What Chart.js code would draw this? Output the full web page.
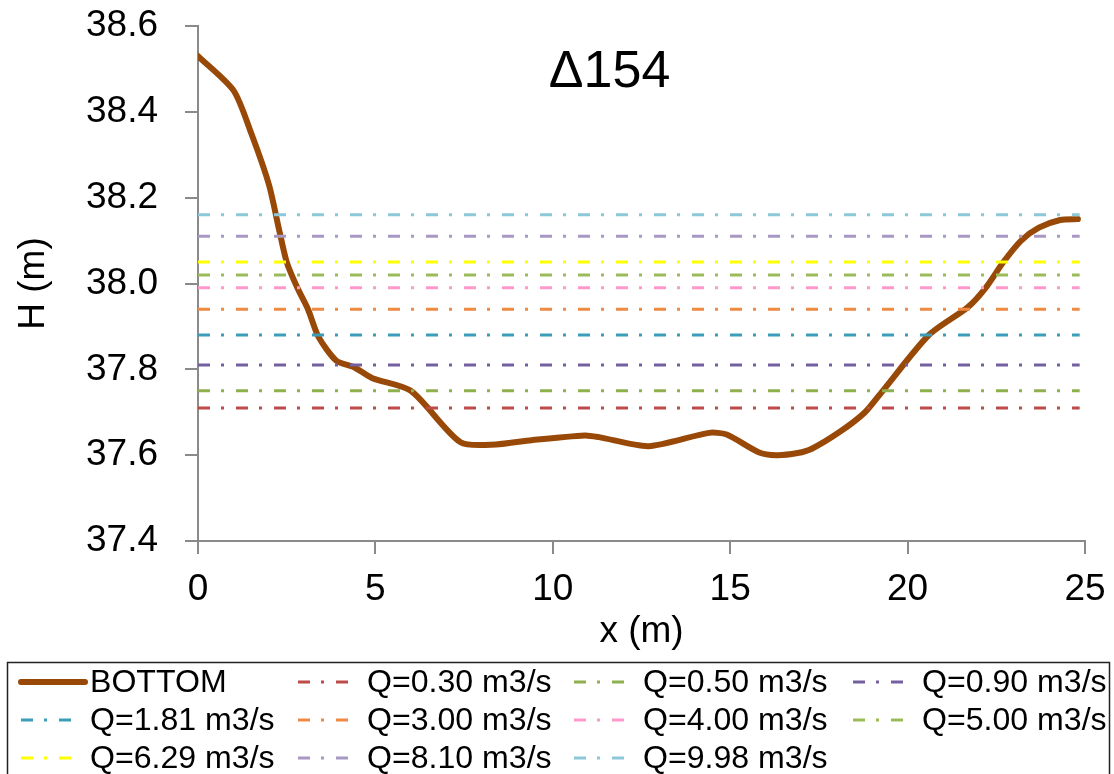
<!DOCTYPE html>
<html>
<head>
<meta charset="utf-8">
<title>Δ154 cross-section</title>
<script src="https://cdn.jsdelivr.net/npm/chart.js@4.4.1/dist/chart.umd.min.js"></script>
<style>
  html, body { margin: 0; padding: 0; background: #ffffff; }
  #wrap { width: 1114px; height: 774px; }
</style>
</head>
<body>
<div id="wrap"><canvas id="chart" width="1114" height="774"></canvas></div>
<script>
// Cross-section Δ154: bed profile and water surface levels for several discharges
const sectionName = 'Δ154';

// Bed profile (station x in m, elevation H in m)
const bottomX = [0, 1.0, 1.5, 2.0, 2.3, 2.5, 2.8, 3.1, 3.4, 3.9, 4.4, 4.9, 6.0, 7.4, 8.4, 9.4, 10.9, 11.3, 12.7, 14.4, 14.9, 15.8, 16.3, 16.9, 17.3, 18.1, 18.8, 19.3, 20.6, 21.7, 22.2, 22.7, 23.2, 23.7, 24.3, 24.8];
const bottomH = [38.53, 38.45, 38.35, 38.23, 38.12, 38.05, 37.99, 37.94, 37.875, 37.82, 37.805, 37.78, 37.75, 37.63, 37.625, 37.635, 37.646, 37.642, 37.621, 37.652, 37.648, 37.607, 37.60, 37.605, 37.615, 37.655, 37.70, 37.75, 37.88, 37.945, 37.99, 38.05, 38.10, 38.13, 38.148, 38.15];

// Water surface elevations per discharge
const flowLabels = ['Q=0.30 m3/s', 'Q=0.50 m3/s', 'Q=0.90 m3/s', 'Q=1.81 m3/s', 'Q=3.00 m3/s', 'Q=4.00 m3/s', 'Q=5.00 m3/s', 'Q=6.29 m3/s', 'Q=8.10 m3/s', 'Q=9.98 m3/s'];
const waterLevels = [37.71, 37.75, 37.81, 37.88, 37.94, 37.99, 38.02, 38.05, 38.11, 38.16];
const levelSpan = [0, 24.85];

// Axis ticks
const xTicks = [0, 5, 10, 15, 20, 25];
const yTicks = [37.4, 37.6, 37.8, 38.0, 38.2, 38.4, 38.6];

// Styling
const bottomColor = '#984807';
const levelColors = ['#BE4B48', '#8FB04E', '#7460A0', '#3C9DB8', '#EE8A42', '#FF99CC', '#9BBB59', '#FFFF00', '#A899C4', '#8CC8DA'];
const dashDot = [12, 11, 3, 12];
const FONT = '"Liberation Sans", Arial, sans-serif';
const AXIS_GRAY = '#8a8a8a';

const datasets = [{
  label: 'BOTTOM',
  data: bottomX.map((x, i) => ({ x: x, y: bottomH[i] })),
  borderColor: bottomColor,
  backgroundColor: bottomColor,
  borderWidth: 6,
  pointRadius: 0,
  tension: 0.25,
  borderCapStyle: 'round',
  borderJoinStyle: 'round',
  order: 2
}];
waterLevels.forEach((h, i) => {
  datasets.push({
    label: flowLabels[i],
    data: levelSpan.map(x => ({ x: x, y: h })),
    borderColor: levelColors[i],
    backgroundColor: levelColors[i],
    borderWidth: 3,
    borderDash: dashDot,
    pointRadius: 0,
    tension: 0,
    order: 1
  });
});

// Section name above the curves
const sectionTitle = {
  id: 'sectionTitle',
  afterDraw(chart) {
    const ctx = chart.ctx;
    const xs = chart.scales.x;
    ctx.save();
    ctx.font = '52px ' + FONT;
    ctx.fillStyle = '#000';
    ctx.textAlign = 'center';
    ctx.textBaseline = 'middle';
    ctx.fillText(sectionName, xs.getPixelForValue(11.6), chart.chartArea.top + 47);
    ctx.restore();
  }
};

// Boxed four-column legend under the x axis
const boxLegend = {
  id: 'boxLegend',
  afterDraw(chart) {
    const ctx = chart.ctx;
    const top = 662;
    const colX = [21, 298, 574, 853];
    const rowY = [682, 720, 758];
    ctx.save();
    ctx.strokeStyle = '#222';
    ctx.lineWidth = 1.5;
    ctx.strokeRect(7.5, top + 0.5, 1102, 130);
    ctx.font = '31px ' + FONT;
    ctx.textBaseline = 'middle';
    ctx.textAlign = 'left';
    chart.data.datasets.forEach((ds, i) => {
      const col = i % 4, row = Math.floor(i / 4);
      const x0 = colX[col], y = rowY[row];
      ctx.beginPath();
      ctx.strokeStyle = ds.borderColor;
      if (i === 0) {
        ctx.lineWidth = 6;
        ctx.lineCap = 'round';
        ctx.setLineDash([]);
        ctx.moveTo(x0, y);
        ctx.lineTo(x0 + 64, y);
      } else {
        ctx.lineWidth = 3;
        ctx.lineCap = 'butt';
        ctx.setLineDash(dashDot);
        ctx.moveTo(x0, y);
        ctx.lineTo(x0 + 52, y);
      }
      ctx.stroke();
      ctx.setLineDash([]);
      ctx.fillStyle = '#000';
      // slightly widened lettering
      ctx.save();
      ctx.translate(x0 + 69, y + 1);
      ctx.scale(1.035, 1);
      ctx.fillText(ds.label, 0, 0);
      ctx.restore();
    });
    ctx.restore();
  }
};

new Chart(document.getElementById('chart'), {
  type: 'line',
  data: { datasets: datasets },
  plugins: [sectionTitle, boxLegend],
  options: {
    responsive: false,
    animation: false,
    layout: { padding: { left: 0, right: 29, top: 26, bottom: 118 } },
    plugins: {
      legend: { display: false },
      tooltip: { enabled: false },
      title: { display: false }
    },
    scales: {
      x: {
        type: 'linear',
        min: xTicks[0],
        max: xTicks[xTicks.length - 1],
        afterBuildTicks(scale) { scale.ticks = xTicks.map(v => ({ value: v })); },
        afterFit(scale) {
          scale.height = 115;
          scale.paddingLeft = 0;
          scale.paddingRight = 0;
        },
        grid: { drawOnChartArea: false, drawTicks: true, tickLength: 13, color: AXIS_GRAY, lineWidth: 2 },
        border: { color: AXIS_GRAY, width: 2 },
        ticks: {
          color: '#000',
          font: { family: FONT, size: 37 },
          padding: 14,
          maxRotation: 0,
          callback: v => String(v)
        },
        title: {
          display: true,
          text: 'x (m)',
          color: '#000',
          font: { family: FONT, size: 37 },
          padding: { top: 0, bottom: 2 }
        }
      },
      y: {
        min: yTicks[0],
        max: yTicks[yTicks.length - 1],
        afterBuildTicks(scale) { scale.ticks = yTicks.map(v => ({ value: v })); },
        afterFit(scale) {
          scale.width = 198;
          scale.paddingTop = 0;
          scale.paddingBottom = 0;
        },
        grid: { drawOnChartArea: false, drawTicks: true, tickLength: 13, color: AXIS_GRAY, lineWidth: 2 },
        border: { color: AXIS_GRAY, width: 2 },
        ticks: {
          color: '#000',
          font: { family: FONT, size: 37 },
          padding: 27,
          callback: v => Number(v).toFixed(1)
        },
        title: {
          display: true,
          text: 'H (m)',
          color: '#000',
          font: { family: FONT, size: 37 },
          padding: { top: 12, bottom: 0 }
        }
      }
    }
  }
});
</script>
</body>
</html>
